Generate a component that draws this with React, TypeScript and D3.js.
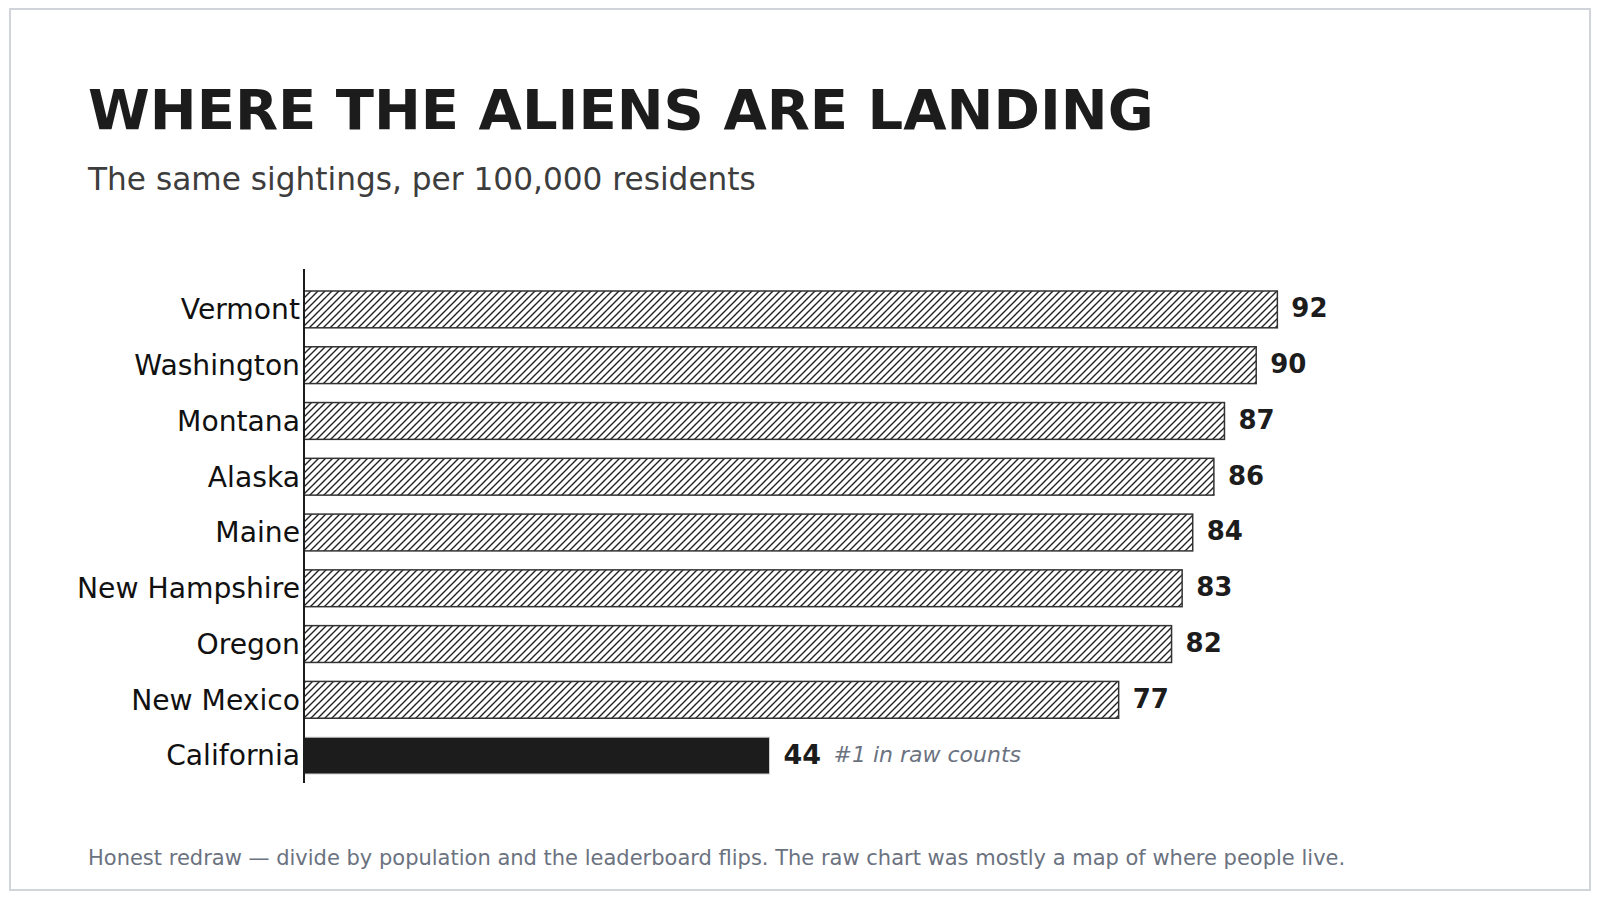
import React from "react";
import * as d3 from "d3";

const states = ["Vermont", "Washington", "Montana", "Alaska", "Maine", "New Hampshire", "Oregon", "New Mexico", "California"];
const perCapita = [92, 90, 87, 86, 84, 83, 82, 77, 44];
const highlight = "California";
const highlightNote = "#1 in raw counts";
const title = "WHERE THE ALIENS ARE LANDING";
const subtitle = "The same sightings, per 100,000 residents";
const footer = "Honest redraw — divide by population and the leaderboard flips. The raw chart was mostly a map of where people live.";

const FONT = "'DejaVu Sans', sans-serif";

export default function App() {
  const x0 = 304;
  const x = d3.scaleLinear().domain([0, 100]).range([x0, x0 + 1058]);
  const y = d3.scaleBand<string>().domain(states).range([291, 774]).paddingInner(0.34).paddingOuter(0);
  const bw = y.bandwidth();
  const P = 7;

  return (
    <div style={{ position: "absolute", left: 0, top: 0, width: 1600, height: 900 }}>
      <svg width={1600} height={900} style={{ display: "block", fontFamily: FONT }}>
        <defs>
          <pattern id="hatch" patternUnits="userSpaceOnUse" width={P} height={P}>
            <rect width={P} height={P} fill="#ffffff" />
            <path d={`M-1,1 l2,-2 M0,${P} l${P},-${P} M${P - 1},${P + 1} l2,-2`} stroke="#222222" strokeWidth={1.4} />
          </pattern>
        </defs>
        <rect x={0} y={0} width={1600} height={900} fill="#ffffff" />
        <rect x={10} y={9} width={1580} height={881} fill="#ffffff" stroke="#d1d5db" strokeWidth={2} />

        <text x={88} y={129} fontSize={56} fontWeight="bold" fill="#1c1c1c">{title}</text>
        <text x={88} y={190} fontSize={31.2} fill="#3d3d3d">{subtitle}</text>

        {states.map((s, i) => {
          const v = perCapita[i];
          const yy = y(s) as number;
          const isHi = s === highlight;
          return (
            <g key={s}>
              <rect
                x={x(0)}
                y={yy}
                width={x(v) - x(0)}
                height={bw}
                fill={isHi ? "#1c1c1c" : "url(#hatch)"}
                stroke={isHi ? "#d0d0d0" : "#333333"}
                strokeWidth={isHi ? 1 : 1.5}
              />
              <text x={x(0) - 4} y={yy + bw / 2} dy="0.35em" textAnchor="end" fontSize={28.2} fill="#111111">{s}</text>
              <text x={x(v) + 14} y={yy + bw / 2} dy="0.3em" fontSize={isHi ? 27 : 26} fontWeight="bold" fill="#1c1c1c">{v}</text>
              {isHi && (
                <text x={x(v) + 64} y={yy + bw / 2} dy="0.3em" fontSize={22} fontStyle="italic" fill="#6b7280">{highlightNote}</text>
              )}
            </g>
          );
        })}
        <line x1={x0} x2={x0} y1={269} y2={783} stroke="#1c1c1c" strokeWidth={2} />

        <text x={88} y={865} fontSize={21} fill="#6b7280">{footer}</text>
      </svg>
    </div>
  );
}
